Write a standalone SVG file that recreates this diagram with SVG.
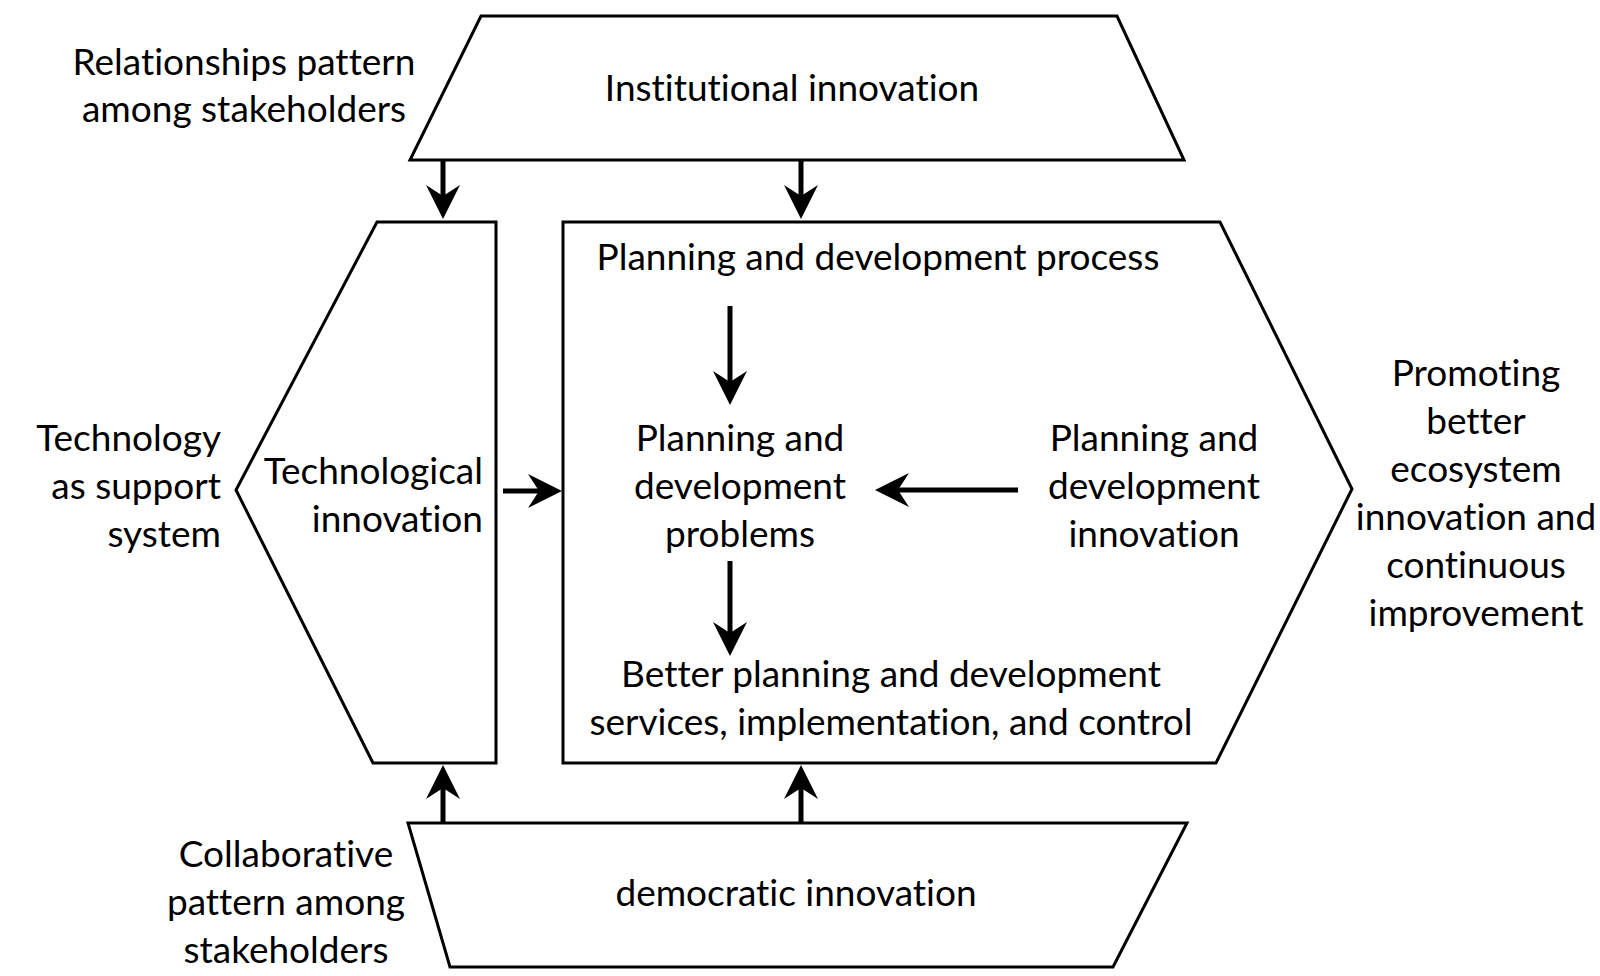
<svg xmlns="http://www.w3.org/2000/svg" width="1600" height="976" viewBox="0 0 1600 976">
<style>
.shape{fill:#fff;stroke:#000;stroke-width:3;stroke-linejoin:miter}
.t{font-family:Lato,"Open Sans","Liberation Sans",sans-serif;font-size:37px;fill:#000;font-variant-ligatures:none;font-feature-settings:"liga" 0}
.c{text-anchor:middle}
.r{text-anchor:end}
.arr{stroke:#000;stroke-width:5;fill:none;marker-end:url(#ah)}
</style>
<defs>
<marker id="ah" markerUnits="userSpaceOnUse" viewBox="0 0 34 34" markerWidth="34" markerHeight="34" refX="14" refY="17" orient="auto">
<path d="M34,17 L0,0 L11,17 L0,34 Z" fill="#000"/>
</marker>
</defs>
<rect width="1600" height="976" fill="#fff"/>

<g id="label-relationships">
<text class="t c" x="244" y="75">Relationships pattern</text>
<text class="t c" x="244" y="122">among stakeholders</text>
</g>
<g id="institutional">
<polygon class="shape" points="481,16 1117,16 1184,160 410,160"/>
<text class="t c" x="792" y="101">Institutional innovation</text>
</g>
<g id="label-technology">
<text class="t r" x="221" y="451">Technology</text>
<text class="t r" x="221" y="499">as support</text>
<text class="t r" x="221" y="547">system</text>
</g>
<g id="technological">
<polygon class="shape" points="377,222 496,222 496,763 373,763 236,490"/>
<text class="t r" x="483" y="484">Technological</text>
<text class="t r" x="483" y="532">innovation</text>
</g>
<g id="planning-process">
<polygon class="shape" points="563,222 1220,222 1352,489 1216,763 563,763"/>
<text class="t c" x="878" y="270">Planning and development process</text>
</g>
<g id="problems">
<text class="t c" x="740" y="451">Planning and</text>
<text class="t c" x="740" y="499">development</text>
<text class="t c" x="740" y="547">problems</text>
</g>
<g id="pd-innovation">
<text class="t c" x="1154" y="451">Planning and</text>
<text class="t c" x="1154" y="499">development</text>
<text class="t c" x="1154" y="547">innovation</text>
</g>
<g id="better-services">
<text class="t c" x="891" y="687">Better planning and development</text>
<text class="t c" x="891" y="735">services, implementation, and control</text>
</g>
<g id="label-promoting">
<text class="t c" x="1476" y="386">Promoting</text>
<text class="t c" x="1476" y="434">better</text>
<text class="t c" x="1476" y="482">ecosystem</text>
<text class="t c" x="1476" y="530">innovation and</text>
<text class="t c" x="1476" y="578">continuous</text>
<text class="t c" x="1476" y="626">improvement</text>
</g>
<g id="democratic">
<polygon class="shape" points="408,823 1187,823 1113,967 450,967"/>
<text class="t c" x="796" y="906">democratic innovation</text>
</g>
<g id="label-collaborative">
<text class="t c" x="286" y="867">Collaborative</text>
<text class="t c" x="286" y="915">pattern among</text>
<text class="t c" x="286" y="963">stakeholders</text>
</g>

<g id="connectors">
<line class="arr" x1="443" y1="161" x2="443" y2="199"/>
<line class="arr" x1="801" y1="161" x2="801" y2="199"/>
<line class="arr" x1="443" y1="822" x2="443" y2="785"/>
<line class="arr" x1="801" y1="822" x2="801" y2="785"/>
<line class="arr" x1="503" y1="491" x2="542" y2="491"/>
<line class="arr" x1="1018" y1="490" x2="895" y2="490"/>
<line class="arr" x1="730" y1="306" x2="730" y2="385"/>
<line class="arr" x1="730" y1="561" x2="730" y2="636"/>
</g>
</svg>
